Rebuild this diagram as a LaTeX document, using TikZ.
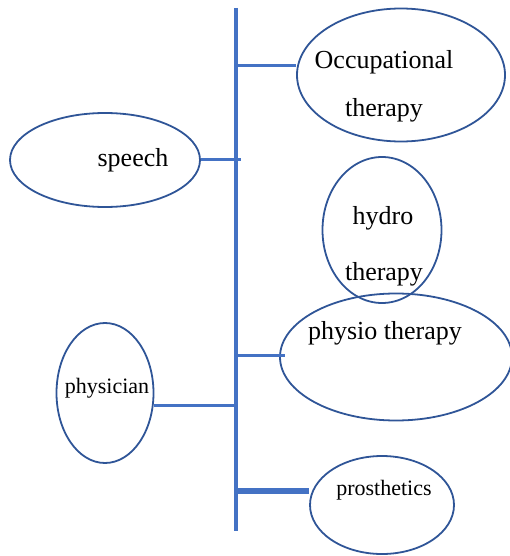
\documentclass[tikz,border=0pt]{standalone}
\usepackage{fontspec}
\setmainfont{Liberation Serif}
\usepackage{xcolor}
\usetikzlibrary{shapes.geometric}
\definecolor{spineblue}{HTML}{4472C4}
\definecolor{ovalblue}{HTML}{2F5597}
\tikzset{
    oval/.style={
        draw=ovalblue,
        ellipse,
        line width=1.8pt,
        inner sep=0pt
    },
    bigtext/.style={
        anchor=base,
        inner sep=0pt,
        font=\fontsize{26}{31}\selectfont
    },
    smalltext/.style={
        anchor=base,
        inner sep=0pt,
        font=\fontsize{22}{26}\selectfont
    },
    branch/.style={
        draw=spineblue,
        line width=3pt
    }
}

\begin{document}
\begin{tikzpicture}[x=1pt, y=-1pt]
  \useasboundingbox (0,0) rectangle (510,556);
  % Ovals
  \node[oval, minimum width=208pt, minimum height=133pt] (occ) at (401,75) {};
  \node[oval, minimum width=190pt, minimum height=94pt] (speech) at (105,160) {};
  \node[oval, minimum width=119pt, minimum height=146pt] (hydro) at (382,230) {};
  \node[oval, minimum width=232pt, minimum height=127pt] (physio) at (396,357) {};
  \node[oval, minimum width=97pt, minimum height=140pt] (physician) at (105,393) {};
  \node[oval, minimum width=144pt, minimum height=98pt] (prosth) at (382,505) {};

  % Labels
  \node[bigtext] (occ1) at (384,69) {Occupational};
  \node[bigtext] (occ2) at (384,117) {therapy};
  \node[bigtext] (speechtxt) at (133,167) {speech};
  \node[bigtext] (hydro1) at (383,224) {hydro};
  \node[bigtext] (hydro2) at (384,280) {therapy};
  \node[bigtext] (physiotxt) at (385,339) {physio therapy};
  \node[smalltext] (physiciantxt) at (107,393) {physician};
  \node[smalltext] (prosthtxt) at (384,495) {prosthetics};

  % Spine
  \coordinate (top) at (236,8);
  \coordinate (bottom) at (236,531);
  \draw[draw=spineblue, line width=4.5pt] (top) -- (bottom);

  % Branches
  \coordinate (jocc) at (236,66);
  \coordinate (jspeech) at (241,160);
  \coordinate (jphysio) at (236,355);
  \coordinate (jphysio2) at (285,355);
  \coordinate (jphysician) at (236,405);
  \coordinate (jprosth) at (236,491);
  \draw[branch] (jocc) -- (jocc -| occ.west);
  \draw[branch] (speech.east) -- (jspeech);
  \draw[branch] (jphysio) -- (jphysio2);
  \draw[branch] (jphysician) -- (jphysician -| physician.east);
  \draw[branch, line width=5.5pt] (jprosth) -- (jprosth -| prosth.west);
\end{tikzpicture}
\end{document}
